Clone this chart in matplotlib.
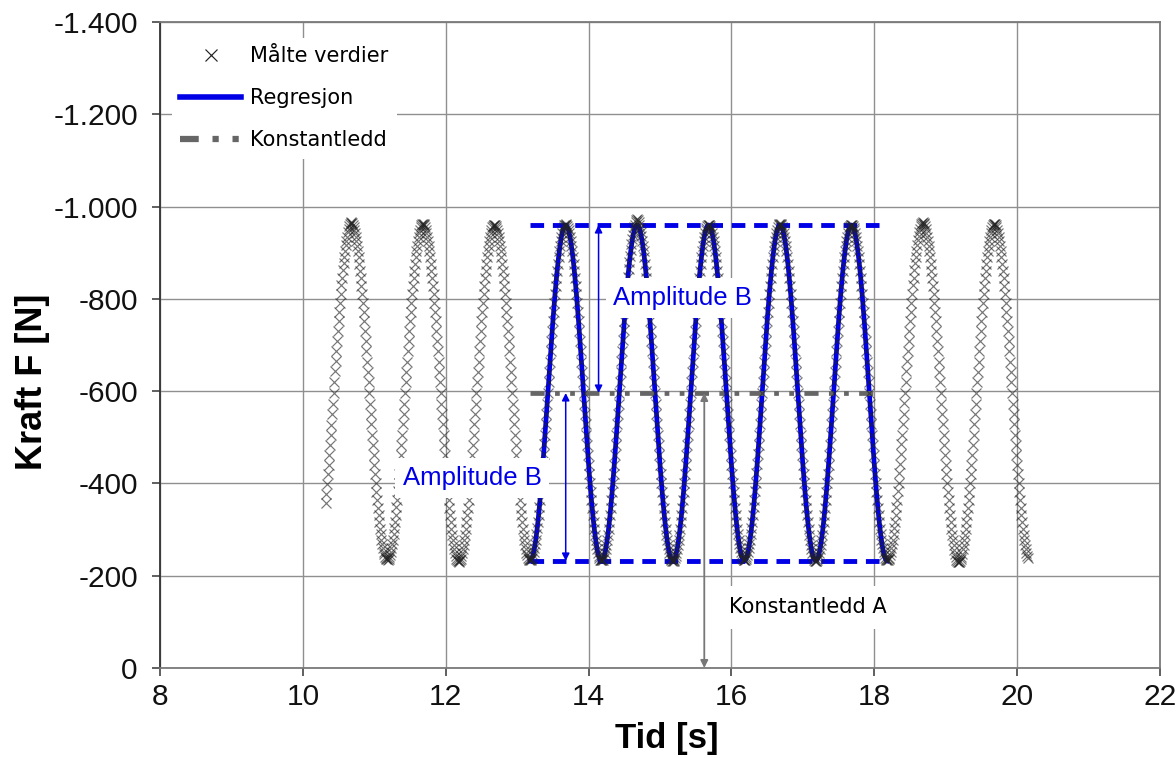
import numpy as np
import matplotlib
matplotlib.use("Agg")
import matplotlib.pyplot as plt
from matplotlib.ticker import FixedLocator, FuncFormatter

# ---------------- data ----------------
# Measured force samples [N], sampled every 0.01 s starting at t = 10.32 s (one row per second)
tid_start = 10.32
tid_steg = 0.01
kraft_maalt_syklus = [
    [-358, -378, -399, -420, -440, -461, -483, -505, -527, -550,
     -573, -596, -620, -643, -665, -688, -709, -731, -752, -772,
     -792, -811, -829, -846, -862, -877, -891, -904, -916, -926,
     -935, -944, -951, -958, -962, -965, -966, -964, -961, -956,
     -950, -943, -935, -926, -915, -903, -890, -876, -861, -845,
     -828, -810, -791, -771, -751, -730, -708, -687, -664, -642,
     -619, -596, -573, -550, -528, -505, -484, -462, -441, -421,
     -401, -382, -364, -347, -331, -316, -302, -290, -278, -268,
     -259, -252, -246, -241, -238, -236, -236, -235, -237, -240,
     -245, -251, -259, -268, -278, -290, -303, -317, -332, -348],
    [-365, -383, -402, -421, -442, -462, -484, -506, -528, -551,
     -573, -596, -619, -642, -664, -687, -708, -730, -751, -771,
     -791, -810, -828, -845, -861, -876, -890, -903, -915, -926,
     -935, -943, -950, -956, -960, -962, -963, -962, -959, -955,
     -949, -942, -934, -925, -915, -903, -890, -876, -861, -845,
     -828, -810, -791, -771, -751, -730, -708, -687, -664, -642,
     -619, -596, -573, -550, -528, -505, -484, -462, -441, -421,
     -401, -382, -364, -347, -331, -316, -302, -289, -277, -266,
     -257, -249, -242, -236, -233, -231, -230, -231, -233, -237,
     -242, -249, -257, -266, -277, -289, -302, -316, -331, -347],
    [-364, -382, -401, -421, -441, -462, -484, -505, -528, -550,
     -573, -596, -619, -642, -664, -687, -708, -730, -751, -771,
     -791, -810, -828, -845, -861, -876, -890, -903, -915, -925,
     -934, -942, -949, -955, -958, -960, -961, -960, -957, -954,
     -949, -942, -934, -925, -915, -903, -890, -876, -861, -845,
     -828, -810, -791, -771, -751, -730, -708, -687, -664, -642,
     -619, -596, -573, -550, -528, -505, -484, -462, -441, -421,
     -401, -382, -364, -347, -331, -316, -302, -289, -277, -267,
     -258, -250, -244, -239, -236, -234, -234, -234, -236, -239,
     -244, -251, -259, -268, -278, -290, -303, -317, -332, -348],
    [-365, -383, -402, -422, -442, -463, -485, -506, -528, -551,
     -573, -596, -619, -642, -664, -687, -708, -730, -751, -771,
     -791, -810, -828, -845, -861, -876, -890, -903, -915, -925,
     -934, -942, -949, -955, -959, -961, -962, -961, -958, -954,
     -949, -942, -934, -925, -915, -903, -890, -876, -861, -845,
     -828, -810, -791, -771, -751, -730, -708, -687, -664, -642,
     -619, -596, -573, -550, -528, -505, -484, -462, -441, -421,
     -401, -382, -364, -347, -331, -316, -302, -289, -277, -267,
     -258, -250, -243, -238, -235, -233, -233, -233, -235, -238,
     -243, -250, -258, -267, -277, -289, -302, -316, -331, -347],
    [-364, -382, -401, -421, -441, -462, -484, -505, -528, -550,
     -573, -596, -619, -642, -665, -688, -710, -732, -753, -773,
     -793, -812, -830, -848, -864, -879, -893, -906, -918, -929,
     -939, -947, -955, -961, -966, -970, -972, -970, -966, -960,
     -953, -945, -936, -926, -915, -903, -890, -876, -861, -845,
     -828, -810, -791, -771, -751, -730, -708, -687, -664, -642,
     -619, -596, -573, -550, -528, -505, -484, -462, -441, -421,
     -401, -382, -364, -347, -331, -316, -302, -289, -277, -267,
     -258, -250, -243, -237, -234, -232, -231, -232, -234, -238,
     -243, -250, -258, -267, -277, -289, -302, -316, -331, -347],
    [-364, -382, -401, -421, -441, -462, -484, -505, -528, -550,
     -573, -596, -619, -642, -664, -687, -708, -730, -751, -771,
     -791, -810, -828, -845, -861, -876, -890, -903, -915, -925,
     -934, -942, -949, -954, -957, -959, -960, -959, -957, -954,
     -949, -942, -934, -925, -915, -903, -890, -876, -861, -845,
     -828, -810, -791, -771, -751, -730, -708, -687, -664, -642,
     -619, -596, -573, -550, -528, -505, -484, -462, -441, -421,
     -401, -382, -364, -347, -331, -316, -302, -290, -278, -268,
     -259, -251, -245, -240, -237, -235, -235, -235, -237, -240,
     -245, -251, -259, -268, -278, -290, -303, -317, -332, -348],
    [-365, -383, -402, -422, -442, -463, -484, -506, -528, -551,
     -573, -596, -619, -642, -664, -687, -708, -730, -751, -771,
     -791, -810, -828, -845, -861, -876, -890, -903, -915, -926,
     -935, -943, -950, -956, -960, -962, -963, -962, -959, -955,
     -949, -942, -934, -925, -915, -903, -890, -876, -861, -845,
     -828, -810, -791, -771, -751, -730, -708, -687, -664, -642,
     -619, -596, -573, -550, -528, -505, -484, -462, -441, -421,
     -401, -382, -364, -347, -331, -316, -302, -289, -277, -267,
     -258, -250, -243, -238, -234, -232, -232, -232, -234, -238,
     -243, -250, -258, -267, -277, -289, -302, -316, -331, -347],
    [-364, -382, -401, -421, -441, -462, -484, -505, -528, -550,
     -573, -596, -619, -642, -664, -687, -708, -730, -751, -771,
     -791, -810, -828, -845, -861, -876, -890, -903, -915, -925,
     -934, -942, -949, -955, -958, -960, -961, -960, -958, -954,
     -949, -942, -934, -925, -915, -903, -890, -876, -861, -845,
     -828, -810, -791, -771, -751, -730, -708, -687, -664, -642,
     -619, -596, -573, -550, -528, -505, -484, -462, -441, -421,
     -401, -382, -364, -347, -331, -316, -302, -290, -278, -268,
     -259, -251, -244, -239, -236, -234, -234, -234, -236, -239,
     -244, -251, -259, -268, -278, -290, -303, -317, -332, -348],
    [-365, -383, -402, -422, -442, -463, -485, -506, -529, -551,
     -574, -597, -620, -643, -665, -688, -709, -731, -752, -772,
     -792, -811, -829, -846, -862, -877, -891, -904, -916, -927,
     -936, -945, -952, -958, -962, -965, -966, -965, -962, -957,
     -951, -943, -935, -925, -915, -903, -890, -876, -861, -845,
     -828, -810, -791, -771, -751, -730, -708, -687, -664, -642,
     -619, -596, -573, -550, -528, -505, -484, -462, -441, -421,
     -401, -382, -364, -347, -331, -316, -302, -289, -277, -266,
     -256, -248, -241, -235, -232, -230, -229, -230, -232, -236,
     -241, -248, -257, -266, -277, -289, -302, -316, -331, -347],
    [-364, -382, -401, -421, -441, -462, -484, -505, -528, -550,
     -573, -596, -619, -642, -664, -687, -708, -730, -751, -771,
     -791, -810, -828, -845, -861, -876, -890, -903, -915, -926,
     -935, -943, -950, -956, -960, -962, -963, -962, -959, -955,
     -949, -942, -934, -925, -915, -903, -890, -876, -861, -845,
     -828, -810, -791, -771, -751, -730, -708, -687, -664, -642,
     -619, -596, -573, -550, -528, -505, -484, -462, -441, -421,
     -401, -382, -364, -347, -331, -316, -302, -289, -277, -267,
     -258, -250, -243, -238],
]

# Regression model F(t) = A - B*cos(2*pi*f*(t - t_topp)), parameters
konstantledd_A = -596.0      # N
amplitude_B = 364.0          # N
frekvens = 1.0               # Hz
t_topp = 10.68               # s
reg_start, reg_slutt = 13.18, 18.18

# helper-line extents [s]
niva_start, niva_slutt = 13.18, 18.10
konst_start, konst_slutt = 13.18, 18.00

# axis settings
x_ticks = [8, 10, 12, 14, 16, 18, 20, 22]
y_ticks = [0, -200, -400, -600, -800, -1000, -1200, -1400]

legend_labels = ["Målte verdier", "Regresjon", "Konstantledd"]

# ---------------- figure ----------------
kraft_maalt = np.concatenate([np.array(r, dtype=float) for r in kraft_maalt_syklus])
tid_maalt = tid_start + tid_steg * np.arange(len(kraft_maalt))

t_reg = np.linspace(reg_start, reg_slutt, 800)
f_reg = konstantledd_A - amplitude_B * np.cos(2 * np.pi * frekvens * (t_reg - t_topp))

fig = plt.figure(figsize=(11.76, 7.58), dpi=100)
ax = fig.add_axes([160 / 1176, 1 - 668 / 758, 1000 / 1176, 646 / 758])

blue = "#0000e6"
grey_grid = "#8f8f8f"

h_maalt, = ax.plot(tid_maalt, kraft_maalt, linestyle="none", marker="x", markersize=7.6,
                   markeredgewidth=0.85, color="#222222", alpha=0.62, zorder=4)
h_reg, = ax.plot(t_reg, f_reg, color=blue, lw=3.4, zorder=3)
h_konst, = ax.plot([konst_start, konst_slutt], [konstantledd_A, konstantledd_A], color="#666666",
                   lw=3.4, linestyle=(0, (3, 2.2, 1, 2.2, 1, 2.2)), zorder=3)

top_lvl = konstantledd_A - amplitude_B
bot_lvl = konstantledd_A + amplitude_B
for lvl in (top_lvl, bot_lvl):
    ax.plot([niva_start, niva_slutt], [lvl, lvl], color=blue, lw=3.5,
            linestyle=(0, (2.8, 1.8)), zorder=3)

arrow_blue = dict(arrowstyle="<|-|>", color=blue, lw=1.1, shrinkA=0, shrinkB=0, mutation_scale=11)
ax.annotate("", xy=(14.14, top_lvl), xytext=(14.14, konstantledd_A), arrowprops=arrow_blue, zorder=5)
ax.annotate("", xy=(13.68, konstantledd_A), xytext=(13.68, bot_lvl), arrowprops=arrow_blue, zorder=5)
ax.annotate("", xy=(15.62, konstantledd_A), xytext=(15.62, 0), zorder=5,
            arrowprops=dict(arrowstyle="<|-|>", color="#777777", lw=1.3, shrinkA=0, shrinkB=0,
                            mutation_scale=11))

ax.text(15.32, -802, "Amplitude B", color=blue, fontsize=18.5, family="Liberation Sans",
        ha="center", va="center", zorder=10,
        bbox=dict(boxstyle="square,pad=0.3", fc="white", ec="none"))
ax.text(12.37, -412, "Amplitude B", color=blue, fontsize=18.5, family="Liberation Sans",
        ha="center", va="center", zorder=10,
        bbox=dict(boxstyle="square,pad=0.3", fc="white", ec="none"))
ax.text(17.07, -132, "Konstantledd A", color="black", fontsize=15, family="DejaVu Sans",
        ha="center", va="center", zorder=10,
        bbox=dict(boxstyle="square,pad=0.55", fc="white", ec="none"))

ax.set_xlim(x_ticks[0], x_ticks[-1])
ax.set_ylim(0, -1400)
ax.xaxis.set_major_locator(FixedLocator(x_ticks))
ax.yaxis.set_major_locator(FixedLocator(y_ticks))


def fmt_y(v, pos):
    v = int(round(v))
    s = f"{abs(v):,}".replace(",", ".")
    return ("-" if v < 0 else "") + s


ax.yaxis.set_major_formatter(FuncFormatter(fmt_y))
ax.xaxis.set_major_formatter(FuncFormatter(lambda v, p: f"{int(v)}"))

ax.grid(True, color=grey_grid, lw=1.0, zorder=0)
ax.set_axisbelow(True)
for side in ("top", "right", "bottom"):
    ax.spines[side].set_color("#7a7a7a")
ax.spines["left"].set_color("#333333")
for sp in ax.spines.values():
    sp.set_linewidth(1.3)

ax.tick_params(axis="both", labelsize=21.5, length=6, width=1.2, color="#444444", direction="out")
ax.tick_params(axis="y", pad=10)
ax.tick_params(axis="x", pad=5)
for lab in ax.get_xticklabels() + ax.get_yticklabels():
    lab.set_family("Liberation Sans")
    lab.set_color("#111111")

ax.set_xlabel("Tid [s]", fontsize=25, fontweight="bold", family="Liberation Sans")
ax.set_ylabel("Kraft F [N]", fontsize=26, fontweight="bold", family="Liberation Sans")
ax.xaxis.set_label_coords(0.507, -0.083)
ax.yaxis.set_label_coords(-0.110, 1 - (382 - 22) / 646)

leg = ax.legend([h_maalt, h_reg, h_konst], legend_labels,
                loc="upper left", bbox_to_anchor=(0.012, 0.975), frameon=True, fancybox=False,
                facecolor="white", edgecolor="none", framealpha=1.0, borderpad=0.4,
                borderaxespad=0.0, prop={"family": "DejaVu Sans", "size": 15},
                handlelength=2.9, handletextpad=0.45, labelspacing=1.05)
leg.set_zorder(10)
leg.legend_handles[0].set_alpha(1.0)
leg.legend_handles[0].set_markersize(9)
leg.legend_handles[1].set_linewidth(4)
leg.legend_handles[2].set_linewidth(4.5)

fig.savefig("out.png", dpi=100)
